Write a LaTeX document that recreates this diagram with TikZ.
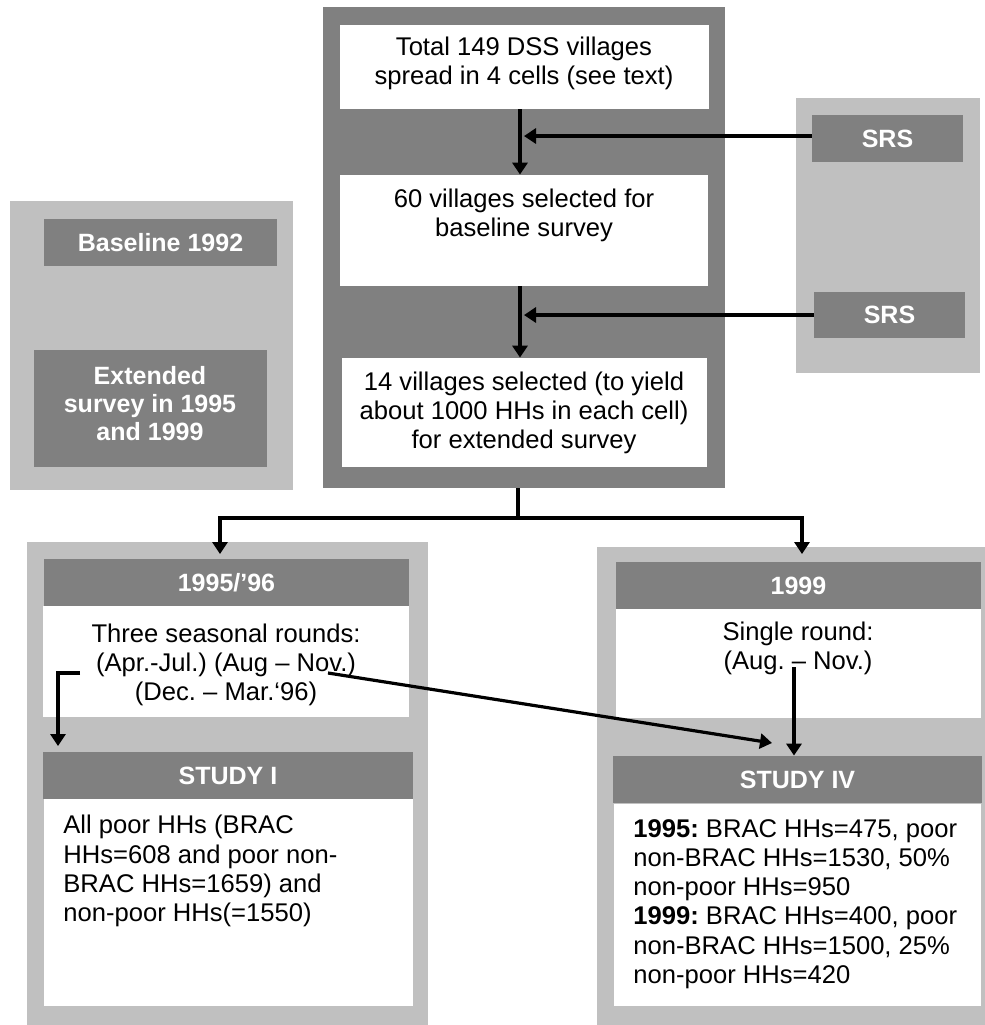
\documentclass[tikz,border=0pt]{standalone}
\usepackage{fontspec}
\setmainfont{Liberation Sans}
\usetikzlibrary{fit,arrows.meta}
\definecolor{darkbg}{RGB}{128,128,128}
\definecolor{lightbg}{RGB}{192,192,192}
\frenchspacing
\begin{document}
\begin{tikzpicture}[x=0.5pt,y=-0.5pt,
  panel/.style={fill=lightbg,draw=none,inner sep=0pt},
  frame/.style={fill=darkbg,draw=none,inner sep=0pt},
  whitebox/.style={fill=white,draw=none,inner sep=0pt},
  headbox/.style={fill=darkbg,draw=none,inner sep=0pt},
  txt/.style={inner sep=0pt,align=center,font=\fontsize{12.8pt}{14.6pt}\selectfont},
  ltxt/.style={inner sep=0pt,align=left,anchor=west,font=\fontsize{12.8pt}{14.6pt}\selectfont},
  htxt/.style={inner sep=0pt,align=center,text=white,font=\fontsize{12.5pt}{14pt}\selectfont\bfseries},
  arr/.style={line width=1.6pt,-{Triangle[length=6pt,width=7.5pt]}},
  ln/.style={line width=1.6pt}]
\useasboundingbox (0,0) rectangle (985,1025);

% central sampling column
\node[frame,fit={(323,7) (725,488)}] (cbox) {};
\node[whitebox,fit={(340,25) (709,109)}] (b1) {};
\node[whitebox,fit={(340,175) (708,286)}] (b2) {};
\node[whitebox,fit={(342,358) (707,467)}] (b3) {};
\node[txt] (t1) at (524,63) {Total 149 DSS villages\\spread in 4 cells (see text)};
\node[txt] (t2) at (524,215) {60 villages selected for\\baseline survey};
\node[txt] (t3) at (524,413) {14 villages selected (to yield\\about 1000 HHs in each cell)\\for extended survey};

% sampling method panel
\node[panel,fit={(796,98) (980,373)}] (srsp) {};
\node[headbox,fit={(812,115) (963,162)}] (srs1) {};
\node[headbox,fit={(814,292) (965,338)}] (srs2) {};
\node[htxt] (srs1t) at (srs1) {SRS};
\node[htxt] (srs2t) at (srs2) {SRS};

% legend panel
\node[panel,fit={(10,201) (293,490)}] (lp) {};
\node[headbox,fit={(44,219) (277,266)}] (base) {};
\node[headbox,fit={(34,350) (267,467)}] (ext) {};
\node[htxt] (baset) at (base) {Baseline 1992};
\node[htxt] (extt) at (150,404) {Extended\\survey in 1995\\and 1999};

% left study panel
\node[panel,fit={(27,542) (428,1025)}] (p95) {};
\node[headbox,fit={(44,559) (409,606)}] (h95) {};
\node[whitebox,fit={(43,606) (409,717)}] (w95) {};
\node[headbox,fit={(43,752) (413,799)}] (hs1) {};
\node[whitebox,fit={(44,799) (413,1006)}] (ws1) {};
\node[htxt] (h95t) at (h95) {1995/’96};
\node[txt] (w95t) at (226,665) {Three seasonal rounds:\\(Apr.-Jul.) (Aug – Nov.)\\(Dec. – Mar.‘96)};
\node[htxt] (hs1t) at (hs1) {STUDY I};
\node[ltxt] (ws1t) at (63,871) {All poor HHs (BRAC\\HHs=608 and poor non-\\BRAC HHs=1659) and\\non-poor HHs(=1550)};

% right study panel
\node[panel,fit={(597,547) (985,1025)}] (p99) {};
\node[headbox,fit={(616,562) (981,609)}] (h99) {};
\node[whitebox,fit={(616,609) (981,718)}] (w99) {};
\node[headbox,fit={(613,756) (982,803)}] (hs4) {};
\node[whitebox,fit={(614,804) (981,1006)}] (ws4) {};
\node[htxt] (h99t) at (h99) {1999};
\node[txt] (w99t) at (798,648) {Single round:\\(Aug. – Nov.)};
\node[htxt] (hs4t) at (hs4) {STUDY IV};
\node[ltxt] (ws4t) at (633,904) {\textbf{1995:} BRAC HHs=475, poor\\non-BRAC HHs=1530, 50\%\\non-poor HHs=950\\\textbf{1999:} BRAC HHs=400, poor\\non-BRAC HHs=1500, 25\%\\non-poor HHs=420};

% connectors
\coordinate (spine) at (520,0);
\coordinate (j1) at (524,136);
\coordinate (j2) at (524,315);
\draw[arr] (b1.south -| spine) -- (b2.north -| spine);
\draw[arr] (b2.south -| spine) -- (b3.north -| spine);
\draw[arr] (srs1.west |- j1) -- (j1);
\draw[arr] (srs2.west |- j2) -- (j2);

\coordinate (split) at (518,518);
\coordinate (tipL) at (220,554);
\coordinate (tipR) at (802,554);
\draw[ln] (cbox.south -| split) -- (split);
\draw[arr] (split) -| (tipL);
\draw[arr] (split) -| (tipR);

\coordinate (hook) at (80,673);
\coordinate (hookc) at (58,673);
\coordinate (hooktip) at (58,746);
\draw[arr] (hook) -- (hookc) -- (hooktip);
\coordinate (nov) at (328,673);
\coordinate (s4in) at (772,743);
\draw[arr] (nov) -- (s4in);
\coordinate (dash99) at (794,667);
\draw[arr] (dash99) -- (hs4.north -| dash99);
\end{tikzpicture}
\end{document}
